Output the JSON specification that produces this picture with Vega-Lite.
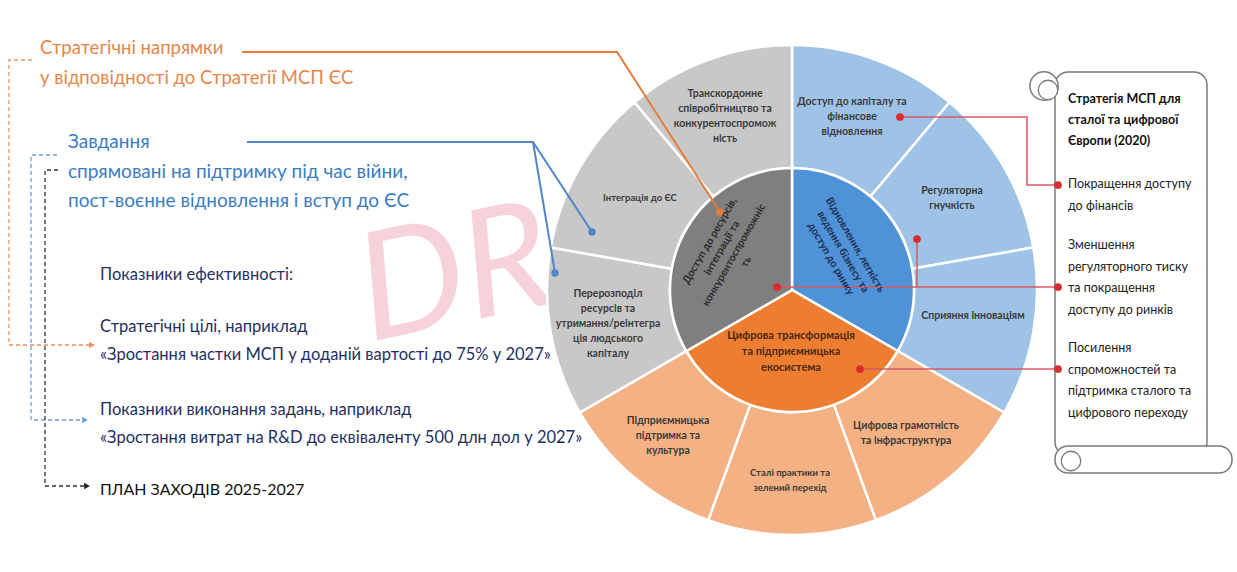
{
  "$schema": "https://vega.github.io/schema/vega-lite/v6.json",
  "width": 1237,
  "height": 572,
  "autosize": {"type": "fit", "contains": "padding"},
  "padding": 0,
  "background": "white",
  "config": {"view": {"stroke": null}, "axis": {"disable": true}, "legend": {"disable": true}},
  "datasets": {
    "segs": [
      {"ring": "outer", "g": "blue", "name": "Доступ до капіталу", "start": 0, "end": 40},
      {"ring": "outer", "g": "blue", "name": "Регуляторна гнучкість", "start": 40, "end": 80},
      {"ring": "outer", "g": "blue", "name": "Сприяння інноваціям", "start": 80, "end": 120},
      {"ring": "outer", "g": "orange", "name": "Цифрова грамотність", "start": 120, "end": 160},
      {"ring": "outer", "g": "orange", "name": "Сталі практики", "start": 160, "end": 200},
      {"ring": "outer", "g": "orange", "name": "Підприємницька підтримка", "start": 200, "end": 240},
      {"ring": "outer", "g": "gray", "name": "Перерозподіл ресурсів", "start": 240, "end": 280},
      {"ring": "outer", "g": "gray", "name": "Інтеграція до ЄС", "start": 280, "end": 320},
      {"ring": "outer", "g": "gray", "name": "Транскордонне співробітництво", "start": 320, "end": 360},
      {"ring": "inner", "g": "blue", "name": "Відновлення", "start": 0, "end": 120},
      {"ring": "inner", "g": "orange", "name": "Цифрова трансформація", "start": 120, "end": 240},
      {"ring": "inner", "g": "gray", "name": "Доступ до ресурсів", "start": 240, "end": 360}
    ],
    "texts": [
      {"k": "wm", "x": 370, "y": 342, "t": "DRAFT"},
      {"k": "or", "x": 40, "y": 48, "t": "Стратегічні напрямки"},
      {"k": "or", "x": 40, "y": 78, "t": "у відповідності до Стратегії МСП ЄС"},
      {"k": "bl", "x": 68, "y": 142, "t": "Завдання"},
      {"k": "bl", "x": 68, "y": 172, "t": "спрямовані на підтримку під час війни,"},
      {"k": "bl", "x": 68, "y": 201, "t": "пост-воєнне відновлення і вступ до ЄС"},
      {"k": "nv", "x": 100, "y": 275, "t": "Показники ефективності:"},
      {"k": "nv", "x": 100, "y": 327, "t": "Стратегічні цілі, наприклад"},
      {"k": "nv", "x": 100, "y": 355, "t": "«Зростання частки МСП у доданій вартості до 75% у 2027»"},
      {"k": "nv", "x": 100, "y": 410, "t": "Показники виконання задань, наприклад"},
      {"k": "nv", "x": 100, "y": 438, "t": "«Зростання витрат на R&D до еквіваленту 500 длн дол у 2027»"},
      {"k": "bk", "x": 100, "y": 490, "t": "ПЛАН ЗАХОДІВ 2025-2027"},
      {"k": "seg", "x": 725, "y": 94, "t": "Транскордонне\nспівробітництво та\nконкурентоспромож\nність"},
      {"k": "segs", "x": 640, "y": 198, "t": "Інтеграція до ЄС"},
      {"k": "seg", "x": 608, "y": 294, "t": "Перерозподіл\nресурсів та\nутримання/реінтегра\nція людського\nкапіталу"},
      {"k": "seg", "x": 852, "y": 102, "t": "Доступ до капіталу та\nфінансове\nвідновлення"},
      {"k": "seg", "x": 952, "y": 191, "t": "Регуляторна\nгнучкість"},
      {"k": "seg", "x": 973, "y": 316, "t": "Сприяння інноваціям"},
      {"k": "seg", "x": 906, "y": 426, "t": "Цифрова грамотність\nта інфраструктура"},
      {"k": "segs", "x": 790, "y": 473, "t": "Сталі практики та\nзелений перехід"},
      {"k": "seg", "x": 668, "y": 421, "t": "Підприємницька\nпідтримка та\nкультура"},
      {"k": "inL", "x": 710, "y": 241, "t": "Доступ до ресурсів,\nінтеграції та\nконкурентоспроможніс\nть"},
      {"k": "inR", "x": 855, "y": 245, "t": "Відновлення, легкість\nведення бізнесу та\nдоступ до ринку"},
      {"k": "inO", "x": 791, "y": 336, "t": "Цифрова трансформація\nта підприємницька\nекосистема"},
      {"k": "scT", "x": 1068, "y": 99, "t": "Стратегія МСП для\nсталої та цифрової\nЄвропи (2020)"},
      {"k": "sc", "x": 1068, "y": 184, "t": "Покращення доступу\nдо фінансів"},
      {"k": "sc", "x": 1068, "y": 245, "t": "Зменшення\nрегуляторного тиску\nта покращення\nдоступу до ринків"},
      {"k": "sc", "x": 1068, "y": 348, "t": "Посилення\nспроможностей та\nпідтримка сталого та\nцифрового переходу"}
    ],
    "paths": [
      {"id": "or", "o": 1, "x": 242, "y": 52},
      {"id": "or", "o": 2, "x": 617, "y": 52},
      {"id": "or", "o": 3, "x": 720, "y": 212},
      {"id": "bl1", "o": 1, "x": 247, "y": 142},
      {"id": "bl1", "o": 2, "x": 533, "y": 142},
      {"id": "bl1", "o": 3, "x": 592, "y": 232},
      {"id": "bl2", "o": 1, "x": 533, "y": 142},
      {"id": "bl2", "o": 2, "x": 555, "y": 273},
      {"id": "r1", "o": 1, "x": 900, "y": 117},
      {"id": "r1", "o": 2, "x": 1027, "y": 117},
      {"id": "r1", "o": 3, "x": 1027, "y": 185},
      {"id": "r1", "o": 4, "x": 1058, "y": 185},
      {"id": "r2", "o": 1, "x": 777, "y": 287},
      {"id": "r2", "o": 2, "x": 1058, "y": 287},
      {"id": "r3", "o": 1, "x": 917, "y": 239},
      {"id": "r3", "o": 2, "x": 917, "y": 287},
      {"id": "r4", "o": 1, "x": 860, "y": 369},
      {"id": "r4", "o": 2, "x": 1058, "y": 369},
      {"id": "dor", "o": 1, "x": 32, "y": 60},
      {"id": "dor", "o": 2, "x": 9, "y": 60},
      {"id": "dor", "o": 3, "x": 9, "y": 345},
      {"id": "dor", "o": 4, "x": 90, "y": 345},
      {"id": "dbl", "o": 1, "x": 57, "y": 155},
      {"id": "dbl", "o": 2, "x": 31, "y": 155},
      {"id": "dbl", "o": 3, "x": 31, "y": 420},
      {"id": "dbl", "o": 4, "x": 83, "y": 420},
      {"id": "dbk", "o": 1, "x": 58, "y": 170},
      {"id": "dbk", "o": 2, "x": 45, "y": 170},
      {"id": "dbk", "o": 3, "x": 45, "y": 486},
      {"id": "dbk", "o": 4, "x": 85, "y": 486}
    ],
    "dots": [
      {"c": "or", "x": 720, "y": 212},
      {"c": "bl", "x": 592, "y": 232},
      {"c": "bl", "x": 555, "y": 273},
      {"c": "rd", "x": 900, "y": 117},
      {"c": "rd", "x": 917, "y": 239},
      {"c": "rd", "x": 777, "y": 287},
      {"c": "rd", "x": 860, "y": 369},
      {"c": "rd", "x": 1058, "y": 185},
      {"c": "rd", "x": 1058, "y": 287},
      {"c": "rd", "x": 1058, "y": 369},
      {"c": "aor", "x": 92, "y": 345},
      {"c": "abl", "x": 85, "y": 420},
      {"c": "abk", "x": 87, "y": 486},
      {"c": "curl1", "x": 1044, "y": 86},
      {"c": "curl2", "x": 1048, "y": 90},
      {"c": "curl3", "x": 1071, "y": 461}
    ],
    "boxes": [
      {"id": "body", "x": 1055, "x2": 1207, "y": 72, "y2": 455},
      {"id": "foot", "x": 1055, "x2": 1232, "y": 446, "y2": 473}
    ]
  },
  "layer": [
    {
      "data": {"name": "texts"},
      "transform": [{"filter": "datum.k === 'wm'"}],
      "mark": {"type": "text", "font": "Lato", "fontSize": 150, "fontStyle": "italic", "color": "#f6d3da", "align": "left", "baseline": "alphabetic", "angle": -12},
      "encoding": {
        "x": {"field": "x", "type": "quantitative", "scale": {"domain": [0, 1237], "nice": false, "zero": false}},
        "y": {"field": "y", "type": "quantitative", "scale": {"domain": [0, 572], "nice": false, "zero": false, "reverse": true}},
        "text": {"field": "t"}
      }
    },
    {
      "data": {"name": "segs"},
      "transform": [{"filter": "datum.ring === 'outer'"}],
      "mark": {"type": "arc", "radius": 245, "radius2": 122, "stroke": "white", "strokeWidth": 2.5},
      "encoding": {
        "x": {"datum": 792, "type": "quantitative"},
        "y": {"datum": 290, "type": "quantitative"},
        "theta": {"field": "start", "type": "quantitative", "scale": {"domain": [0, 360], "range": [0, 6.283185307179586]}},
        "theta2": {"field": "end"},
        "color": {"field": "g", "type": "nominal", "scale": {"domain": ["gray", "blue", "orange"], "range": ["#c8c8c8", "#9ec3e7", "#f4b183"]}}
      }
    },
    {
      "data": {"name": "segs"},
      "transform": [{"filter": "datum.ring === 'inner'"}],
      "mark": {"type": "arc", "radius": 122, "radius2": 0, "stroke": "white", "strokeWidth": 2.5},
      "encoding": {
        "x": {"datum": 792, "type": "quantitative"},
        "y": {"datum": 290, "type": "quantitative"},
        "theta": {"field": "start", "type": "quantitative", "scale": {"domain": [0, 360], "range": [0, 6.283185307179586]}},
        "theta2": {"field": "end"},
        "fill": {"field": "g", "type": "nominal", "scale": {"domain": ["gray", "blue", "orange"], "range": ["#7f7f7f", "#4f92d8", "#ed7d31"]}}
      }
    },
    {
      "encoding": {
        "x": {"field": "x", "type": "quantitative"},
        "y": {"field": "y", "type": "quantitative"}
      },
      "layer": [
        {
          "data": {"name": "boxes"},
          "mark": {"type": "rect", "fill": "white", "stroke": "#7a7a7a", "strokeWidth": 1.5, "cornerRadius": 13},
          "encoding": {"x2": {"field": "x2"}, "y2": {"field": "y2"}}
        },
        {
          "data": {"name": "dots"},
          "transform": [{"filter": "datum.c === 'curl1'"}],
          "mark": {"type": "point", "shape": "circle", "size": 800, "filled": true, "fill": "white", "stroke": "#7a7a7a", "strokeWidth": 1.5, "opacity": 1}
        },
        {
          "data": {"name": "dots"},
          "transform": [{"filter": "datum.c === 'curl2' || datum.c === 'curl3'"}],
          "mark": {"type": "point", "shape": "circle", "size": 380, "filled": true, "fill": "white", "stroke": "#7a7a7a", "strokeWidth": 1.3, "opacity": 1}
        },
        {
          "data": {"name": "paths"},
          "transform": [{"filter": "datum.id === 'or'"}],
          "mark": {"type": "line", "color": "#e27d3c", "strokeWidth": 2},
          "encoding": {"detail": {"field": "id"}, "order": {"field": "o"}}
        },
        {
          "data": {"name": "paths"},
          "transform": [{"filter": "datum.id === 'bl1' || datum.id === 'bl2'"}],
          "mark": {"type": "line", "color": "#4f87c6", "strokeWidth": 2},
          "encoding": {"detail": {"field": "id"}, "order": {"field": "o"}}
        },
        {
          "data": {"name": "paths"},
          "transform": [{"filter": "indexof(['r1','r2','r3','r4'], datum.id) >= 0"}],
          "mark": {"type": "line", "color": "#d65a63", "strokeWidth": 1.5},
          "encoding": {"detail": {"field": "id"}, "order": {"field": "o"}}
        },
        {
          "data": {"name": "paths"},
          "transform": [{"filter": "datum.id === 'dor'"}],
          "mark": {"type": "line", "color": "#e8945c", "strokeWidth": 1.3, "strokeDash": [4, 3]},
          "encoding": {"detail": {"field": "id"}, "order": {"field": "o"}}
        },
        {
          "data": {"name": "paths"},
          "transform": [{"filter": "datum.id === 'dbl'"}],
          "mark": {"type": "line", "color": "#6c9fd6", "strokeWidth": 1.3, "strokeDash": [4, 3]},
          "encoding": {"detail": {"field": "id"}, "order": {"field": "o"}}
        },
        {
          "data": {"name": "paths"},
          "transform": [{"filter": "datum.id === 'dbk'"}],
          "mark": {"type": "line", "color": "#333333", "strokeWidth": 1.3, "strokeDash": [4, 3]},
          "encoding": {"detail": {"field": "id"}, "order": {"field": "o"}}
        },
        {
          "data": {"name": "dots"},
          "transform": [{"filter": "datum.c === 'or'"}],
          "mark": {"type": "point", "shape": "circle", "size": 55, "filled": true, "color": "#e27d3c", "opacity": 1}
        },
        {
          "data": {"name": "dots"},
          "transform": [{"filter": "datum.c === 'bl'"}],
          "mark": {"type": "point", "shape": "circle", "size": 55, "filled": true, "color": "#4f87c6", "opacity": 1}
        },
        {
          "data": {"name": "dots"},
          "transform": [{"filter": "datum.c === 'rd'"}],
          "mark": {"type": "point", "shape": "circle", "size": 60, "filled": true, "color": "#d92b2b", "opacity": 1}
        },
        {
          "data": {"name": "dots"},
          "transform": [{"filter": "datum.c === 'aor'"}],
          "mark": {"type": "point", "shape": "triangle-right", "size": 45, "filled": true, "color": "#e8945c", "opacity": 1}
        },
        {
          "data": {"name": "dots"},
          "transform": [{"filter": "datum.c === 'abl'"}],
          "mark": {"type": "point", "shape": "triangle-right", "size": 45, "filled": true, "color": "#6c9fd6", "opacity": 1}
        },
        {
          "data": {"name": "dots"},
          "transform": [{"filter": "datum.c === 'abk'"}],
          "mark": {"type": "point", "shape": "triangle-right", "size": 45, "filled": true, "color": "#222222", "opacity": 1}
        },
        {
          "data": {"name": "texts"},
          "transform": [{"filter": "datum.k === 'or'"}],
          "mark": {"type": "text", "font": "Lato", "fontSize": 18.5, "color": "#e6864a", "align": "left", "baseline": "middle"},
          "encoding": {"text": {"field": "t"}}
        },
        {
          "data": {"name": "texts"},
          "transform": [{"filter": "datum.k === 'bl'"}],
          "mark": {"type": "text", "font": "Lato", "fontSize": 19, "color": "#3a7cc3", "align": "left", "baseline": "middle"},
          "encoding": {"text": {"field": "t"}}
        },
        {
          "data": {"name": "texts"},
          "transform": [{"filter": "datum.k === 'nv'"}],
          "mark": {"type": "text", "font": "Lato", "fontSize": 16.5, "color": "#1f2f5f", "align": "left", "baseline": "middle"},
          "encoding": {"text": {"field": "t"}}
        },
        {
          "data": {"name": "texts"},
          "transform": [{"filter": "datum.k === 'bk'"}],
          "mark": {"type": "text", "font": "Lato", "fontSize": 16, "color": "#111111", "align": "left", "baseline": "middle"},
          "encoding": {"text": {"field": "t"}}
        },
        {
          "data": {"name": "texts"},
          "transform": [{"filter": "datum.k === 'seg'"}],
          "mark": {"type": "text", "font": "Lato", "fontSize": 10.5, "fontWeight": "bold", "color": "#3a3a3a", "align": "center", "baseline": "middle", "lineBreak": "\n", "lineHeight": 15},
          "encoding": {"text": {"field": "t"}}
        },
        {
          "data": {"name": "texts"},
          "transform": [{"filter": "datum.k === 'segs'"}],
          "mark": {"type": "text", "font": "Lato", "fontSize": 9.5, "fontWeight": "bold", "color": "#3a3a3a", "align": "center", "baseline": "middle", "lineBreak": "\n", "lineHeight": 15},
          "encoding": {"text": {"field": "t"}}
        },
        {
          "data": {"name": "texts"},
          "transform": [{"filter": "datum.k === 'inL'"}],
          "mark": {"type": "text", "font": "Lato", "fontSize": 10.5, "fontWeight": "bold", "color": "#2b2b2b", "align": "center", "baseline": "middle", "lineBreak": "\n", "lineHeight": 14, "angle": -60},
          "encoding": {"text": {"field": "t"}}
        },
        {
          "data": {"name": "texts"},
          "transform": [{"filter": "datum.k === 'inR'"}],
          "mark": {"type": "text", "font": "Lato", "fontSize": 10.5, "fontWeight": "bold", "color": "#1f2f4f", "align": "center", "baseline": "middle", "lineBreak": "\n", "lineHeight": 14, "angle": 60},
          "encoding": {"text": {"field": "t"}}
        },
        {
          "data": {"name": "texts"},
          "transform": [{"filter": "datum.k === 'inO'"}],
          "mark": {"type": "text", "font": "Lato", "fontSize": 11, "fontWeight": "bold", "color": "#4a2a10", "align": "center", "baseline": "middle", "lineBreak": "\n", "lineHeight": 16},
          "encoding": {"text": {"field": "t"}}
        },
        {
          "data": {"name": "texts"},
          "transform": [{"filter": "datum.k === 'scT'"}],
          "mark": {"type": "text", "font": "Lato", "fontSize": 12.5, "fontWeight": "bold", "color": "#111111", "align": "left", "baseline": "middle", "lineBreak": "\n", "lineHeight": 21},
          "encoding": {"text": {"field": "t"}}
        },
        {
          "data": {"name": "texts"},
          "transform": [{"filter": "datum.k === 'sc'"}],
          "mark": {"type": "text", "font": "Lato", "fontSize": 12.5, "color": "#222222", "align": "left", "baseline": "middle", "lineBreak": "\n", "lineHeight": 21.5},
          "encoding": {"text": {"field": "t"}}
        }
      ]
    }
  ]
}
